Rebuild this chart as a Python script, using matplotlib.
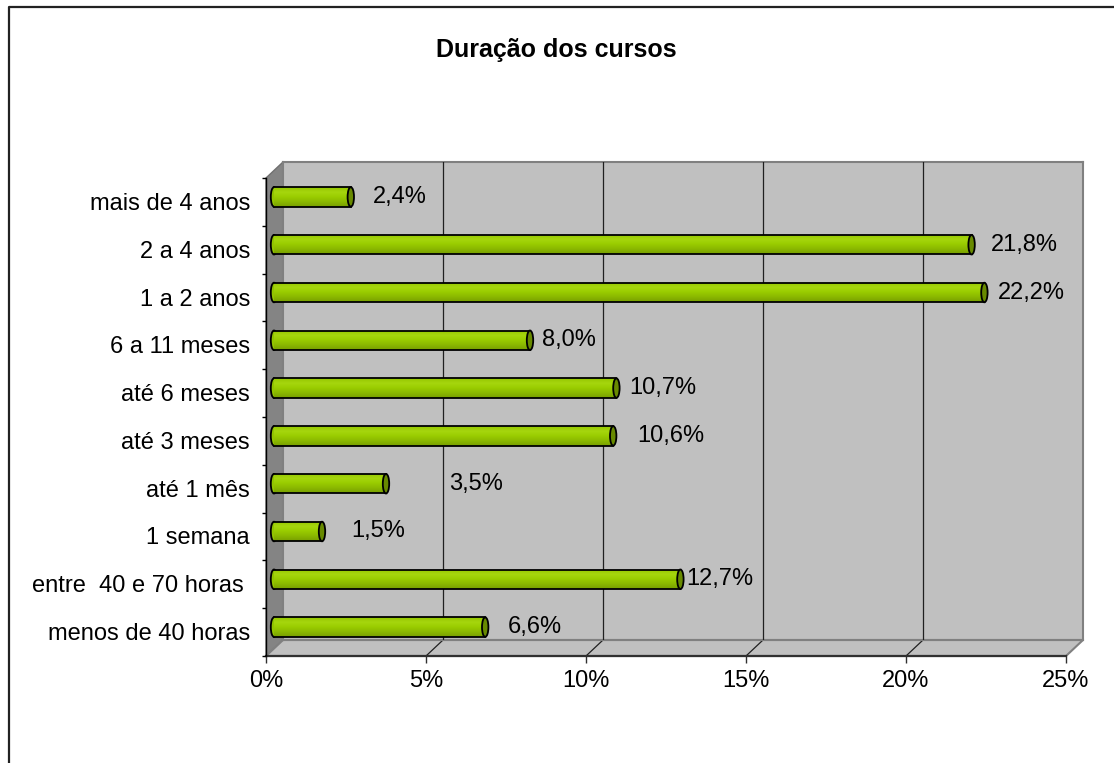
import matplotlib
matplotlib.use('Agg')
import matplotlib.pyplot as plt
import matplotlib.transforms as mtransforms
from matplotlib.patches import Polygon, Ellipse
from matplotlib.lines import Line2D
from matplotlib.colors import LinearSegmentedColormap
import numpy as np

plt.rcParams['font.family'] = ['Liberation Sans', 'DejaVu Sans']

# data (bottom row first)
categories = ['menos de 40 horas', 'entre  40 e 70 horas ', '1 semana', 'até 1 mês',
              'até 3 meses', 'até 6 meses', '6 a 11 meses', '1 a 2 anos',
              '2 a 4 anos', 'mais de 4 anos']
values = [6.6, 12.7, 1.5, 3.5, 10.6, 10.7, 8.0, 22.2, 21.8, 2.4]
value_labels = ['6,6%', '12,7%', '1,5%', '3,5%', '10,6%', '10,7%', '8,0%', '22,2%', '21,8%', '2,4%']
xticks = [0, 5, 10, 15, 20, 25]
xtick_labels = ['0%', '5%', '10%', '15%', '20%', '25%']
title = 'Duração dos cursos'

# layout: how far each data label sits right of its bar end (pixels)
label_shift = [23, 6, 29, 63, 24, 13, 12, 13, 19, 22]

W, H = 1114, 763
fig = plt.figure(figsize=(W / 100, H / 100), dpi=100)
fig.patch.set_facecolor('white')

# back wall of the 3d box
ax = fig.add_axes([283 / W, (H - 640) / H, 800 / W, 478 / H])
ax.set_xlim(0, 25)
ax.set_ylim(-0.5, len(categories) - 0.5)
ax.set_facecolor('#c0c0c0')
for s in ax.spines.values():
    s.set_color('#808080')
    s.set_linewidth(1.5)
    s.set_zorder(0.7)
ax.set_xticks([])
ax.set_yticks([])
for g in xticks[1:-1]:
    ax.axvline(g, color='#202020', lw=0.9, zorder=1)


def shifted(dx, dy):
    # shift data transform by pixels (dpi 100 -> 1 px = 0.01 in)
    return ax.transData + mtransforms.ScaledTranslation(dx / 100, dy / 100, fig.dpi_scale_trans)


front = shifted(-17, -16)
mid = shifted(-9, -11)
ident = mtransforms.IdentityTransform()
ytop = len(categories) - 0.5


def pts(tr, xy):
    return tr.transform(np.array(xy))


# left wall and floor
left_wall = np.vstack([pts(front, [(0, -0.5), (0, ytop)]), pts(ax.transData, [(0, ytop), (0, -0.5)])])
ax.add_patch(Polygon(left_wall, closed=True, transform=ident, facecolor='#848484',
                     edgecolor='#707070', lw=1, clip_on=False, zorder=0.5))
floor = np.vstack([pts(front, [(0, -0.5), (25, -0.5)]), pts(ax.transData, [(25, -0.5), (0, -0.5)])])
ax.add_patch(Polygon(floor, closed=True, transform=ident, facecolor='#c0c0c0',
                     edgecolor='#808080', lw=1.5, clip_on=False, zorder=0.5))
for g in xticks[1:-1]:
    a = pts(ax.transData, [(g, -0.5)])[0]
    b = pts(front, [(g, -0.5)])[0]
    ax.add_line(Line2D([a[0], b[0]], [a[1], b[1]], transform=ident, color='#202020',
                       lw=0.9, clip_on=False, zorder=0.6))

# front axes lines and ticks
ax.plot([0, 25], [-0.5, -0.5], transform=front, color='#303030', lw=1.6, clip_on=False, zorder=1)
ax.plot([0, 0], [-0.5, ytop], transform=front, color='black', lw=1.0, clip_on=False, zorder=1)
ax.vlines(xticks, -0.5 - 7 * 10 / 478, -0.5, transform=front, color='#303030', lw=1.0, clip_on=False)
bounds = np.arange(-0.5, ytop + 0.01, 1.0)
ax.hlines(bounds, -4 * 25 / 800, 0, transform=front, color='black', lw=1.0, clip_on=False)

for t, lab in zip(xticks, xtick_labels):
    ax.annotate(lab, xy=(t, -0.5), xycoords=front, xytext=(0, -25), textcoords='offset pixels',
                ha='center', va='center', fontsize=17, annotation_clip=False)
for i, cat in enumerate(categories):
    ax.annotate(cat, xy=(0, i), xycoords=front, xytext=(-16, -2), textcoords='offset pixels',
                ha='right', va='center', fontsize=17, annotation_clip=False)

# cylinder bars
bar_h = 0.41
green = LinearSegmentedColormap.from_list('g', ['#789f00', '#8ab800', '#99cc00', '#a6d60e', '#94c600'])
grad = np.linspace(0, 1, 64).reshape(-1, 1)
ypos = np.arange(len(categories))
for i, v in zip(ypos, values):
    ax.add_patch(Ellipse((0, i), 0.2, bar_h, transform=mid, facecolor='#92c400',
                         edgecolor='black', lw=1.3, clip_on=False, zorder=1.8))
bars = ax.barh(ypos, values, height=bar_h, color='#99cc00', edgecolor='none',
               transform=mid, clip_on=False, zorder=2)
for bar, i, v in zip(bars, ypos, values):
    im = ax.imshow(grad, cmap=green, aspect='auto', origin='lower',
                   extent=[0, v, i - bar_h / 2, i + bar_h / 2], transform=mid, zorder=2.1)
    im.set_clip_path(bar)
    ax.plot([0, v], [i - bar_h / 2, i - bar_h / 2], transform=mid, color='black', lw=1.3,
            clip_on=False, zorder=2.2)
    ax.plot([0, v], [i + bar_h / 2, i + bar_h / 2], transform=mid, color='black', lw=1.3,
            clip_on=False, zorder=2.2)
    ax.add_patch(Ellipse((v, i), 0.2, bar_h, transform=mid, facecolor='#688a00',
                         edgecolor='black', lw=1.3, clip_on=False, zorder=2.3))

for i, v, lab, sh in zip(ypos, values, value_labels, label_shift):
    ax.annotate(lab, xy=(v, i), xycoords=mid, xytext=(sh, 0), textcoords='offset pixels',
                ha='left', va='center', fontsize=17, annotation_clip=False, zorder=3)

fig.text(556 / W, 1 - 50 / H, title, ha='center', va='center', fontsize=18, fontweight='bold')

# chart area frame (only left/top visible in the source)
fig.add_artist(Line2D([8.5 / W, 8.5 / W, 1], [0, 1 - 6.5 / H, 1 - 6.5 / H],
                      transform=fig.transFigure, color='#222222', lw=1.6))

fig.savefig('out.png', dpi=100)
